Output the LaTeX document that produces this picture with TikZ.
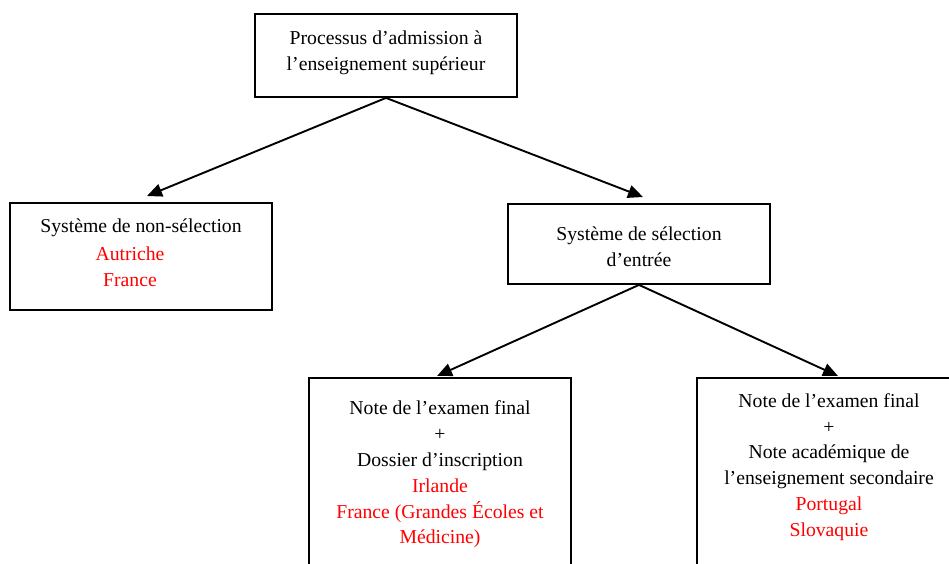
\documentclass[tikz,border=0pt]{standalone}
\usepackage{fontspec}
\setmainfont{Liberation Serif}
\usetikzlibrary{arrows.meta}
\definecolor{country}{RGB}{255,0,0}
\begin{document}
\begin{tikzpicture}[x=1pt,y=-1pt,
  box/.style={draw, line width=1.8pt, inner sep=0pt},
  txt/.style={align=center, font=\fontsize{19.7}{25.8}\selectfont, inner sep=0pt},
  arr/.style={line width=1.9pt, -{Triangle[length=15pt,width=13pt]}}]
\useasboundingbox (0,0) rectangle (949,563);
\fill[white] (0,0) rectangle (949,563);
\clip (0,0) rectangle (949,563);
% boxes
\node[box, minimum width=262, minimum height=83] (top) at (386,55.5) {};
\node[box, minimum width=262, minimum height=107] (nonsel) at (141,256.5) {};
\node[box, minimum width=262, minimum height=80] (sel) at (639,244) {};
\node[box, minimum width=262, minimum height=222] (exdos) at (440,489) {};
\node[box, minimum width=262, minimum height=222] (exnote) at (828,489) {};
% texts
\node[txt] (toptxt) at (386,52.5) {Processus d’admission à\\l’enseignement supérieur};
\node[txt] (nonseltxt) at (141,227.5) {Système de non-sélection};
\node[txt, text=country] (nonselc) at (130,266.5) {Autriche\\France};
\node[txt] (seltxt) at (639,246.5) {Système de sélection\\d’entrée};
\node[txt] (exdostxt) at (440,474.5) {Note de l’examen final\\+\\Dossier d’inscription\\\textcolor{country}{Irlande}\\\textcolor{country}{France (Grandes Écoles et}\\\textcolor{country}{Médicine)}};
\node[txt] (exnotetxt) at (829,467) {Note de l’examen final\\+\\Note académique de\\l’enseignement secondaire\\\textcolor{country}{Portugal}\\\textcolor{country}{Slovaquie}};
% arrow ends
\coordinate (t1) at (147,196);
\coordinate (t2) at (643,197);
\coordinate (t3) at (437,376);
\coordinate (t4) at (838,376);
\draw[arr] (top.south) -- (t1);
\draw[arr] (top.south) -- (t2);
\draw[arr] (sel.south) -- (t3);
\draw[arr] (sel.south) -- (t4);
\end{tikzpicture}
\end{document}
